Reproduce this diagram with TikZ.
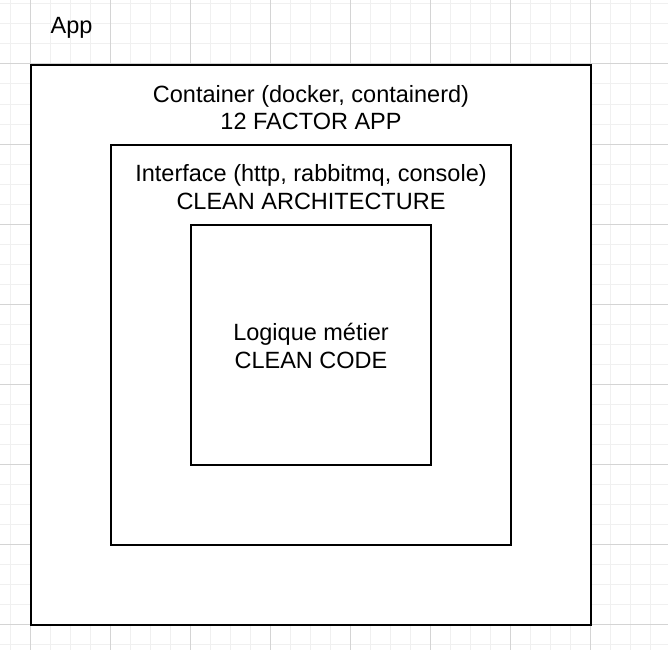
\documentclass[tikz,border=0pt]{standalone}
\usepackage{fontspec}
\setmainfont{Liberation Sans}
\begin{document}
\begin{tikzpicture}[x=1pt,y=-1pt,
  minorgrid/.style={draw={rgb,255:red,240;green,240;blue,240},line width=1pt},
  majorgrid/.style={draw={rgb,255:red,212;green,212;blue,212},line width=1pt},
  layer/.style={draw=black,fill=white,line width=2.5pt},
  lbl/.style={inner sep=0pt,align=center,anchor=base,font=\fontsize{23.5}{27.4}\selectfont}]
\useasboundingbox (0,0) rectangle (668,650);
\fill[white] (0,0) rectangle (668,650);
% minor grid
\foreach \x in {10,30,...,670} \draw[minorgrid] (\x,0) -- (\x,650);
\foreach \y in {4,24,...,650} \draw[minorgrid] (0,\y) -- (668,\y);
% major grid
\foreach \x in {30,110,...,670} \draw[majorgrid] (\x,0) -- (\x,650);
\foreach \y in {64,144,...,650} \draw[majorgrid] (0,\y) -- (668,\y);
% layers
\draw[layer] (31,65) rectangle (591,625);
\draw[layer] (111,145) rectangle (511,545);
\draw[layer] (191,225) rectangle (431,465);
% labels (base anchor = baseline of the last line)
\node[lbl] (app) at (71.5,33.5) {App};
\node[lbl] (container) at (311,129.5) {Container (docker, containerd)\\12 FACTOR APP};
\node[lbl] (interface) at (311,209) {Interface (http, rabbitmq, console)\\CLEAN ARCHITECTURE};
\node[lbl] (logique) at (311,368.3) {Logique métier\\CLEAN CODE};
\end{tikzpicture}
\end{document}
